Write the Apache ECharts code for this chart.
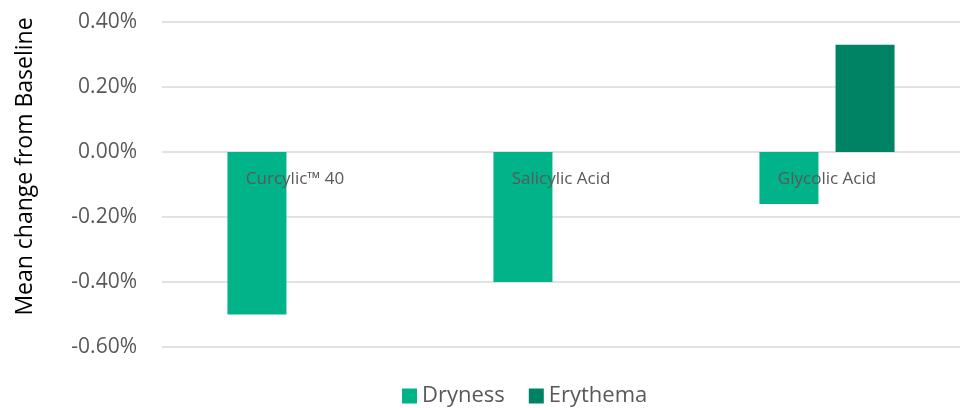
<!DOCTYPE html>
<html><head><meta charset="utf-8">
<script src="https://cdn.jsdelivr.net/npm/echarts@6/dist/echarts.min.js"></script>
<style>html,body{margin:0;padding:0;background:#fff}#c{width:966px;height:408px}</style>
</head><body><div id="c"></div>
<script>
const categories = ['Curcylic™ 40', 'Salicylic Acid', 'Glycolic Acid'];
const dryness = [-0.50, -0.40, -0.16];
const erythema = [0, 0, 0.33];
const yTicks = { min: -0.6, max: 0.4, interval: 0.2 };

const chart = echarts.init(document.getElementById('c'), null, { renderer: 'canvas' });
chart.setOption({
  animation: false,
  textStyle: { fontFamily: 'Open Sans' },
  grid: { left: 162, right: 6, top: 22, bottom: 61, containLabel: false },
  legend: {
    bottom: -4, left: 397, itemWidth: 15, itemHeight: 15, itemGap: 24,
    icon: 'rect',
    textStyle: { fontSize: 22, color: '#595959', fontFamily: 'Open Sans' },
    data: ['Dryness', 'Erythema']
  },
  xAxis: {
    type: 'category', data: categories,
    offset: -195,
    axisLine: { show: false },
    axisTick: { show: false },
    axisLabel: { color: '#595959', fontSize: 17, margin: 19, fontFamily: 'Open Sans' },
    z: 10
  },
  yAxis: {
    type: 'value', min: yTicks.min, max: yTicks.max, interval: yTicks.interval,
    name: 'Mean change from Baseline', nameLocation: 'middle', nameGap: 125,
    nameTextStyle: { color: '#000', fontSize: 23, fontFamily: 'Open Sans', padding: [0, 0, 0, 36] },
    axisLine: { show: false }, axisTick: { show: false },
    axisLabel: { color: '#595959', fontSize: 21, margin: 25, formatter: v => v.toFixed(2) + '%' },
    splitLine: { lineStyle: { color: '#d9d9d9', width: 1.5 } }
  },
  series: [
    { name: 'Dryness', type: 'bar', data: dryness, barWidth: 59, barGap: '29%', itemStyle: { color: '#00b388' } },
    { name: 'Erythema', type: 'bar', data: erythema, barWidth: 59, itemStyle: { color: '#008264' } }
  ]
});
</script></body></html>
